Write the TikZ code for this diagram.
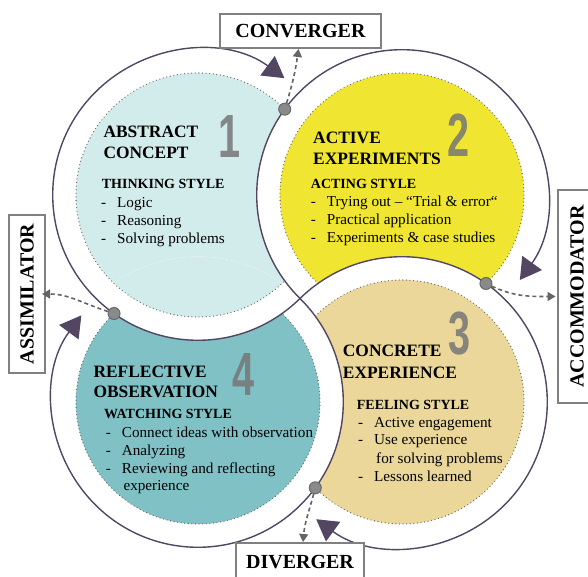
\documentclass[tikz,border=0pt]{standalone}
\usepackage{fontspec}
\setmainfont{Liberation Serif}
\newfontfamily\numfont{Liberation Sans}
\usetikzlibrary{arrows.meta,calc}
\definecolor{cyanfill}{RGB}{210,236,235}
\definecolor{yellowfill}{RGB}{240,230,50}
\definecolor{beigefill}{RGB}{234,215,153}
\definecolor{tealfill}{RGB}{128,193,198}
\definecolor{outlinecol}{RGB}{82,70,98}
\definecolor{dotgray}{RGB}{105,105,105}
\definecolor{boxgray}{RGB}{128,128,128}
\definecolor{dashgray}{RGB}{100,100,100}
\definecolor{knobfill}{RGB}{138,138,138}
\definecolor{numgray}{RGB}{118,118,118}
\newcommand{\lsdash}{\makebox[16pt][l]{-}}
\tikzset{
  head/.style={anchor=base west, inner sep=0pt, font=\fontsize{17.4}{21}\selectfont\bfseries},
  subhead/.style={anchor=base west, inner sep=0pt, font=\fontsize{14}{17}\selectfont\bfseries},
  item/.style={anchor=base west, inner sep=0pt, font=\fontsize{15.2}{18}\selectfont},
  numeral/.style={anchor=base, inner sep=0pt, font=\numfont\bfseries\fontsize{61}{61}\selectfont, text=numgray, text opacity=0.85},
  lbox/.style={draw=boxgray, line width=2pt, fill=white, inner sep=0pt, font=\fontsize{20}{24}\selectfont\bfseries},
  dotb/.style={draw=dotgray, line width=1.3pt, dash pattern=on 0pt off 3.6pt, line cap=round},
  outl/.style={draw=outlinecol, line width=1.4pt, -{Triangle[width=24pt,length=21pt]}},
  knob/.style={circle, fill=knobfill, draw=dotgray, line width=1pt, minimum size=12pt, inner sep=0pt},
  dasharr/.style={draw=dashgray, line width=1.6pt, dash pattern=on 4pt off 3pt, -{Triangle[width=9pt,length=8pt]}},
}
\begin{document}
\begin{tikzpicture}[x=1pt,y=1pt]
\useasboundingbox (0,0) rectangle (588,577);
\fill[white] (0,0) rectangle (588,577);
\def\Rout{145.3}
\def\rin{122}
\coordinate (c1) at (198,382);
\coordinate (c2) at (402,382);
\coordinate (c3) at (402,175);
\coordinate (c4) at (198,175);

% discs (pinwheel layering)
\foreach \c/\col in {c1/cyanfill,c2/yellowfill,c3/beigefill,c4/tealfill}{
  \fill[white] (\c) circle[radius=\Rout];
  \fill[\col] (\c) circle[radius=\rin];
  \draw[dotb] (\c) circle[radius=\rin];
}
\begin{scope}
  \clip (c4) circle[radius=\Rout];
  \fill[white] (c1) circle[radius=\Rout];
  \fill[cyanfill] (c1) circle[radius=\rin];
  \draw[dotb] (c1) circle[radius=\rin];
\end{scope}

% cycle outlines
\draw[outl] (c1) ++(-45.4:\Rout) arc[start angle=-45.4, end angle=-306.5, radius=\Rout];
\draw[outl] (c2) ++(225.4:\Rout) arc[start angle=225.4, end angle=-35.8, radius=\Rout];
\draw[outl] (c3) ++(134.6:\Rout) arc[start angle=134.6, end angle=-126.2, radius=\Rout];
\draw[outl] (c4) ++(45.4:\Rout) arc[start angle=45.4, end angle=-216.6, radius=\Rout];

% label boxes
\node[lbox, minimum width=161pt, minimum height=34pt] (conv) at (300.5,546) {CONVERGER};
\node[lbox, minimum width=128pt, minimum height=38pt] (div) at (300,15) {DIVERGER};
\node[lbox, rotate=90, minimum width=158pt, minimum height=36pt] (assim) at (27,283) {ASSIMILATOR};
\node[lbox, rotate=90, minimum width=213pt, minimum height=38pt] (acc) at (577,280.5) {ACCOMMODATOR};

% knobs
\node[knob] (dt) at ($(c1)+(44.7:\rin)$) {};
\node[knob] (dr) at ($(c2)+(-46.5:\rin)$) {};
\node[knob] (db) at ($(c3)+(-135.3:\rin)$) {};
\node[knob] (dl) at ($(c4)+(133.5:\rin)$) {};

% dashed arrows
\draw[dasharr] (dt) to[out=73,in=-98] ([xshift=-2pt]conv.south);
\draw[dasharr] (dr) to[out=-25,in=180] ([xshift=-1.5pt]acc.north);
\draw[dasharr] (db) to[out=-105,in=85] ([xshift=3pt]div.north);
\draw[dasharr] (dl) to[out=162,in=0] ([xshift=-4pt]assim.south);

% circle 1
\node[head] (t1a) at (103.3,439) {ABSTRACT};
\node[head] (t1b) at (103.3,418) {CONCEPT};
\node[numeral] (n1) at (230,419) {\scalebox{0.65}[1]{1}};
\node[subhead] (s1) at (101.7,388) {THINKING STYLE};
\node[item] (i1a) at (101,369.5) {\lsdash Logic};
\node[item] (i1b) at (101,351.5) {\lsdash Reasoning};
\node[item] (i1c) at (101,333.5) {\lsdash Solving problems};

% circle 2
\node[head] (t2a) at (313,433.7) {ACTIVE};
\node[head] (t2b) at (313,412) {EXPERIMENTS};
\node[numeral] (n2) at (459,420.3) {\scalebox{0.65}[1]{2}};
\node[subhead] (s2) at (310.7,388.7) {ACTING STYLE};
\node[item] (i2a) at (310.7,370.3) {\lsdash Trying out – “Trial \& error“};
\node[item] (i2b) at (310.7,352) {\lsdash Practical application};
\node[item] (i2c) at (310.7,334.3) {\lsdash Experiments \& case studies};

% circle 3
\node[numeral] (n3) at (460,222) {\scalebox{0.65}[1]{3}};
\node[head] (t3a) at (342.7,220.3) {CONCRETE};
\node[head] (t3b) at (342.7,198.7) {EXPERIENCE};
\node[subhead] (s3) at (356.7,167.7) {FEELING STYLE};
\node[item] (i3a) at (358,149.7) {\lsdash Active engagement};
\node[item] (i3b) at (358,132) {\lsdash Use experience};
\node[item] (i3c) at (376,113.7) {for solving problems};
\node[item] (i3d) at (358,95.3) {\lsdash Lessons learned};

% circle 4
\node[head] (t4a) at (93.3,199.7) {REFLECTIVE};
\node[head] (t4b) at (93.3,179.7) {OBSERVATION};
\node[numeral] (n4) at (243.3,181) {\scalebox{0.65}[1]{4}};
\node[subhead] (s4) at (104,158) {WATCHING STYLE};
\node[item] (i4a) at (105.7,139.3) {\lsdash Connect ideas with observation};
\node[item] (i4b) at (105.7,121.3) {\lsdash Analyzing};
\node[item] (i4c) at (105.7,103.7) {\lsdash Reviewing and reflecting};
\node[item] (i4d) at (123.3,86.3) {experience};
\end{tikzpicture}
\end{document}
